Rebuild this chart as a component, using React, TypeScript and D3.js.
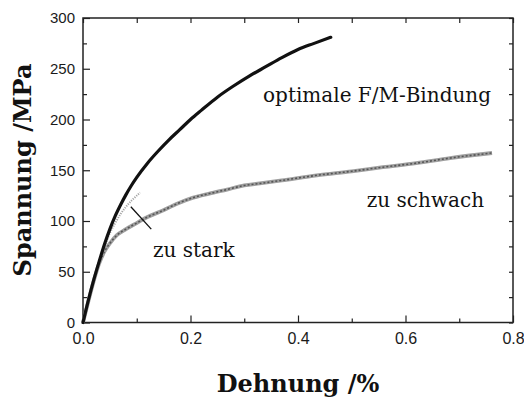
import { useEffect, useRef } from "react"
import * as d3 from "d3"

// optimale F/M-Bindung (black curve)
const optStrain = [0, 0.01, 0.02, 0.03, 0.04, 0.05, 0.06, 0.07, 0.08, 0.09, 0.1, 0.12, 0.14, 0.16, 0.18, 0.2, 0.22, 0.25, 0.28, 0.31, 0.34, 0.37, 0.4, 0.43, 0.461]
const optStress = [0, 22, 42, 60, 77, 92, 105, 116, 126, 135, 143, 157, 169, 180, 190, 200, 209, 222, 233, 243, 252, 261, 269, 275, 281]

// zu schwach (grey speckled curve)
const weakStrain = [0, 0.01, 0.02, 0.03, 0.04, 0.05, 0.063, 0.08, 0.1, 0.12, 0.143, 0.175, 0.205, 0.235, 0.268, 0.3, 0.329, 0.37, 0.435, 0.5, 0.558, 0.62, 0.683, 0.761]
const weakStress = [0, 21, 41, 58, 70, 78, 86, 92, 98, 104, 109, 117, 123, 127, 131, 135, 137, 140, 145, 149, 153, 157, 162, 167]

// zu stark (light dotted curve)
const strongStrain = [0, 0.02, 0.035, 0.05, 0.06, 0.07, 0.08, 0.09, 0.1, 0.106]
const strongStress = [0, 40, 66, 88, 98, 107, 114, 120, 125, 128]

const xMajor = [0, 0.2, 0.4, 0.6, 0.8]
const xMinor = [0.1, 0.3, 0.5, 0.7]
const yMajor = [0, 50, 100, 150, 200, 250, 300]
const yMinor = [25, 75, 125, 175, 225, 275]

const labels = [
  { text: "optimale F/M-Bindung", x: 0.335, y: 217 },
  { text: "zu schwach", x: 0.528, y: 114 },
  { text: "zu stark", x: 0.130, y: 64.5 },
]
const leader = [[0.089, 114], [0.127, 92]]

export default function App() {
  const ref = useRef<SVGSVGElement>(null)
  useEffect(() => {
    if (!ref.current) return
    const svg = d3.select(ref.current)
    svg.selectAll("*").remove()
    const x = d3.scaleLinear().domain([0, 0.8]).range([83, 513])
    const y = d3.scaleLinear().domain([0, 300]).range([322.5, 18])
    const tickStyle = (g: any) => {
      g.select(".domain").remove()
      g.selectAll("line").style("stroke", "#222").style("stroke-width", 1.2)
      g.selectAll("text").style("fill", "#1a1a1a").style("font-family", "Liberation Sans, Arial, sans-serif")
    }

    // ticks, all pointing into the frame
    svg.append("g").attr("transform", `translate(0,${y(0)})`)
      .call(d3.axisBottom(x).tickValues(xMajor).tickSizeInner(-7).tickSizeOuter(0).tickPadding(10).tickFormat(d3.format(".1f")))
      .call(tickStyle).call(g => g.selectAll("text").style("font-size", "16px"))
    svg.append("g").attr("transform", `translate(0,${y(0)})`)
      .call(d3.axisBottom(x).tickValues(xMinor).tickSize(-4).tickFormat(() => "")).call(tickStyle)
    svg.append("g").attr("transform", `translate(0,${y(300)})`)
      .call(d3.axisTop(x).tickValues([...xMajor, ...xMinor]).tickSize(-5).tickFormat(() => "")).call(tickStyle)
    svg.append("g").attr("transform", `translate(${x(0)},0)`)
      .call(d3.axisLeft(y).tickValues(yMajor).tickSizeInner(-7).tickSizeOuter(0).tickPadding(8))
      .call(tickStyle).call(g => g.selectAll("text").style("font-size", "15px"))
    svg.append("g").attr("transform", `translate(${x(0)},0)`)
      .call(d3.axisLeft(y).tickValues(yMinor).tickSize(-4).tickFormat(() => "")).call(tickStyle)
    svg.append("g").attr("transform", `translate(${x(0.8)},0)`)
      .call(d3.axisRight(y).tickValues([...yMajor, ...yMinor]).tickSize(-4).tickFormat(() => "")).call(tickStyle)

    svg.append("rect").attr("x", x(0)).attr("y", y(300)).attr("width", x(0.8) - x(0)).attr("height", y(0) - y(300))
      .attr("fill", "none").attr("stroke", "#222").attr("stroke-width", 1.5)

    const line = d3.line<[number, number]>().x(d => x(d[0])).y(d => y(d[1])).curve(d3.curveMonotoneX)
    const weak = weakStrain.map((s, i) => [s, weakStress[i]] as [number, number])
    const strong = strongStrain.map((s, i) => [s, strongStress[i]] as [number, number])
    const opt = optStrain.map((s, i) => [s, optStress[i]] as [number, number])

    svg.append("path").attr("d", line(weak)).attr("fill", "none").attr("stroke", "#a0a0a0").attr("stroke-width", 3.8)
    svg.append("path").attr("d", line(weak)).attr("fill", "none").attr("stroke", "#555").attr("stroke-width", 1.6)
      .attr("stroke-dasharray", "2,2")
    svg.append("path").attr("d", line(strong)).attr("fill", "none").attr("stroke", "#a5a5a5").attr("stroke-width", 2)
      .attr("stroke-dasharray", "1.2,1.2")
    svg.append("path").attr("d", line(opt)).attr("fill", "none").attr("stroke", "#111").attr("stroke-width", 3.2)
      .attr("stroke-linecap", "round")

    svg.append("line").attr("x1", x(leader[0][0])).attr("y1", y(leader[0][1])).attr("x2", x(leader[1][0])).attr("y2", y(leader[1][1]))
      .attr("stroke", "#111").attr("stroke-width", 1.3)

    labels.forEach(l => {
      svg.append("text").attr("x", x(l.x)).attr("y", y(l.y)).style("font-family", "DejaVu Serif, serif").style("font-size", "20px")
        .style("fill", "#111").text(l.text)
    })

    svg.append("text").attr("x", 298).attr("y", 392).attr("text-anchor", "middle")
      .style("font-family", "DejaVu Serif, serif").style("font-weight", "bold").style("font-size", "24px").style("fill", "#111")
      .text("Dehnung /%")
    svg.append("text").attr("transform", "translate(31,170) rotate(-90)").attr("text-anchor", "middle")
      .style("font-family", "DejaVu Serif, serif").style("font-weight", "bold").style("font-size", "24px").style("fill", "#111")
      .text("Spannung /MPa")
  }, [])
  return <svg ref={ref} width={524} height={397} style={{ position: "absolute", left: 0, top: 0, background: "#fff" }} />
}
